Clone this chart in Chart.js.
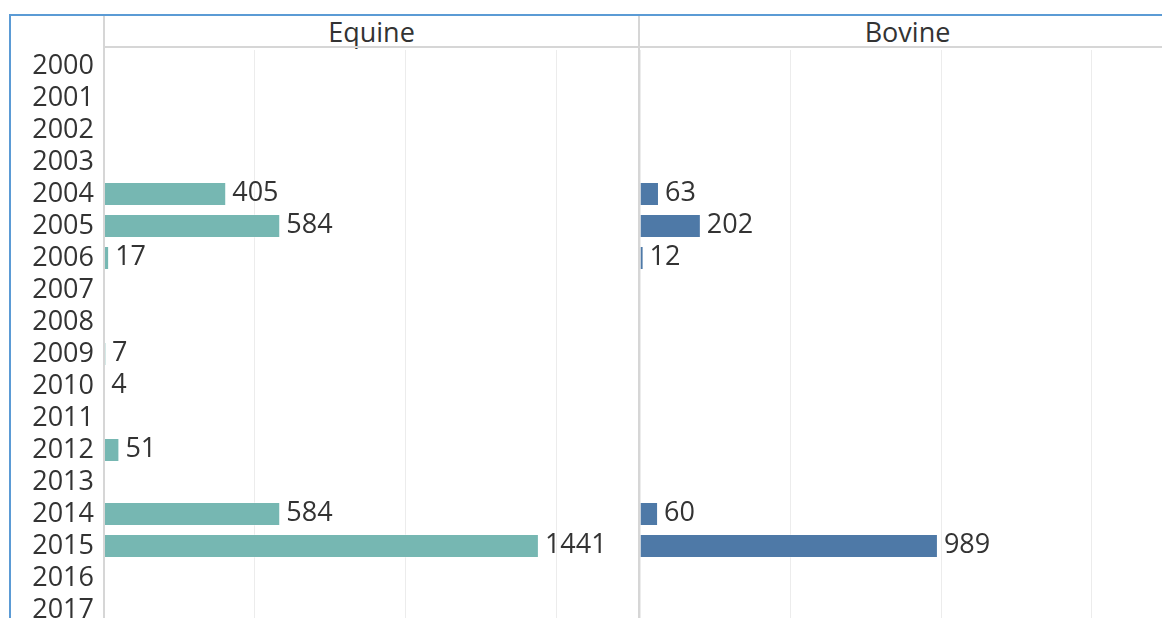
<!DOCTYPE html>
<html>
<head>
<meta charset="utf-8">
<script src="https://cdn.jsdelivr.net/npm/chart.js@4"></script>
<style>
  html, body { margin: 0; padding: 0; background: #fff; overflow: hidden; }
  body { width: 1162px; height: 618px; position: relative; font-family: 'Open Sans', sans-serif; }
  .frame { position: absolute; left: 9px; top: 14px; width: 1200px; height: 700px;
           border-top: 2px solid #5b9bd5; border-left: 2px solid #5b9bd5; }
  .vline { position: absolute; top: 16px; height: 700px; width: 2px; background: #d6d6d6; }
  .hline { position: absolute; left: 104px; top: 46px; width: 1100px; height: 2px; background: #d6d6d6; }
  .hdr { position: absolute; top: 14px; height: 34px; line-height: 36px; text-align: center;
         font-size: 27px; color: #333; }
  .panel { position: absolute; top: 50px; }
</style>
</head>
<body>
<div class="frame"></div>

<div class="hdr" style="left:104px;width:535px">Equine</div>
<div class="hdr" style="left:640px;width:535px">Bovine</div>

<div class="panel" style="left:11px;width:629px;height:576px"><canvas id="equineChart"></canvas></div>
<div class="panel" style="left:640px;width:535px;height:576px"><canvas id="bovineChart"></canvas></div>

<div class="hline"></div>
<div class="vline" style="left:103px"></div>
<div class="vline" style="left:638px"></div>

<script>
// ─── Data ─────────────────────────────────────────────
const years = ['2000', '2001', '2002', '2003', '2004', '2005', '2006', '2007', '2008',
               '2009', '2010', '2011', '2012', '2013', '2014', '2015', '2016', '2017'];
const equine = [null, null, null, null, 405, 584, 17, null, null, 7, 4, null, 51, null, 584, 1441, null, null];
const bovine = [null, null, null, null, 63, 202, 12, null, null, null, null, null, null, null, 60, 989, null, null];
const xTicks = [0, 500, 1000, 1500];
const xMax = 1776;

const TEAL = '#76b7b2';
const BLUE = '#4e79a7';
const TEXT = '#333333';
const FONT = "'Open Sans', sans-serif";

// value labels at the end of each bar
const valueLabels = {
  id: 'valueLabels',
  afterDatasetsDraw(chart) {
    const { ctx } = chart;
    const meta = chart.getDatasetMeta(0);
    const data = chart.data.datasets[0].data;
    ctx.save();
    ctx.font = `27px ${FONT}`;
    ctx.fillStyle = TEXT;
    ctx.textAlign = 'left';
    ctx.textBaseline = 'middle';
    meta.data.forEach((bar, i) => {
      if (data[i] == null) return;
      ctx.fillText(String(data[i]), bar.x + 6, bar.y - 1);
    });
    ctx.restore();
  }
};

function makeChart(id, values, color, showYears) {
  return new Chart(document.getElementById(id), {
    type: 'bar',
    data: {
      labels: years,
      datasets: [{
        data: values,
        backgroundColor: color,
        borderColor: 'rgba(255,255,255,0.35)',
        borderWidth: 1,
        borderSkipped: 'start',
        categoryPercentage: 1,
        barPercentage: 0.75
      }]
    },
    options: {
      indexAxis: 'y',
      responsive: true,
      maintainAspectRatio: false,
      animation: false,
      layout: { padding: 0 },
      plugins: { legend: { display: false }, tooltip: { enabled: false } },
      scales: {
        x: {
          min: 0,
          max: xMax,
          afterBuildTicks: s => { s.ticks = xTicks.map(v => ({ value: v })); },
          afterFit: s => { s.height = 0; s.paddingLeft = 0; s.paddingRight = 0; },
          grid: { color: '#ececec', lineWidth: 1, drawTicks: false },
          border: { display: false },
          ticks: { display: false }
        },
        y: {
          display: showYears,
          afterFit: s => {
            s.width = showYears ? 93 : 0;
            s.paddingTop = 0;
            s.paddingBottom = 0;
          },
          grid: { display: false, drawTicks: false },
          border: { display: false },
          ticks: {
            color: TEXT,
            padding: 10,
            autoSkip: false,
            font: { family: FONT, size: 27 }
          }
        }
      }
    },
    plugins: [valueLabels]
  });
}

makeChart('equineChart', equine, TEAL, true);
makeChart('bovineChart', bovine, BLUE, false);
</script>
</body>
</html>
